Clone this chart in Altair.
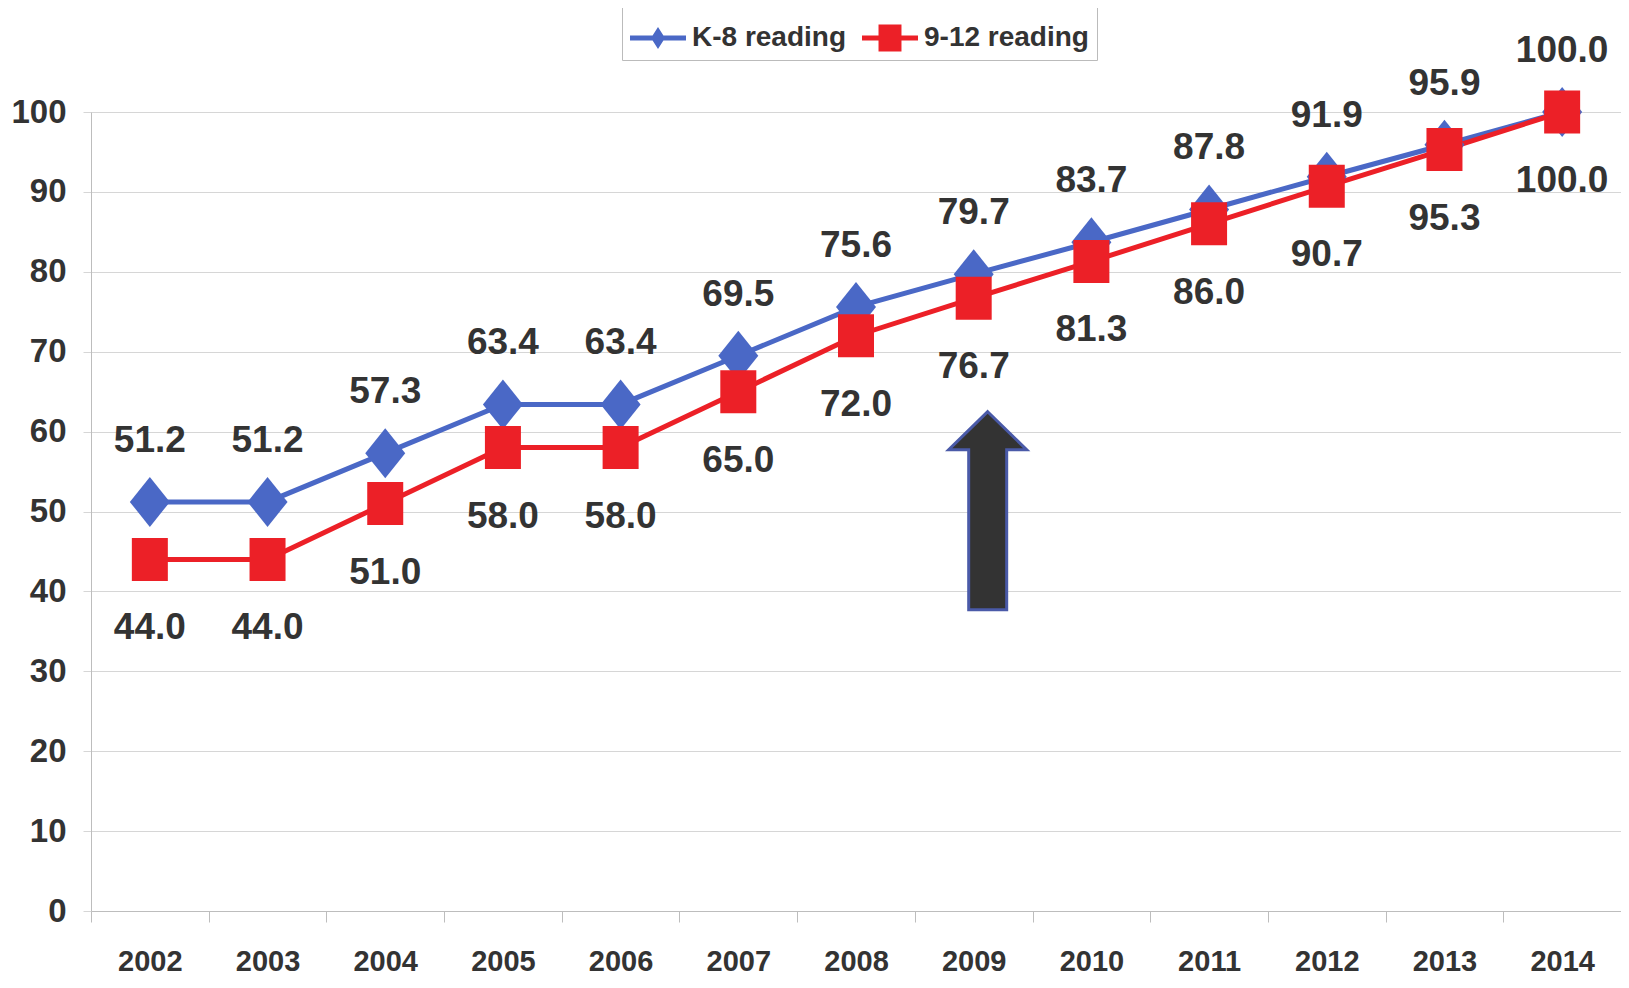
import altair as alt
import pandas as pd

years = ["2002", "2003", "2004", "2005", "2006", "2007", "2008",
         "2009", "2010", "2011", "2012", "2013", "2014"]
k8_reading = [51.2, 51.2, 57.3, 63.4, 63.4, 69.5, 75.6, 79.7, 83.7, 87.8, 91.9, 95.9, 100.0]
g912_reading = [44.0, 44.0, 51.0, 58.0, 58.0, 65.0, 72.0, 76.7, 81.3, 86.0, 90.7, 95.3, 100.0]
series_names = ["K-8 reading", "9-12 reading"]
series_colors = ["#4a68c6", "#ec2027"]
y_ticks = [0, 10, 20, 30, 40, 50, 60, 70, 80, 90, 100]

# annotation arrow (centre of the arrow, in data units)
arrow_year = ["2009"]
arrow_mid = [50.1]

FONT = "Liberation Sans"
TEXT = "#333333"

rows = []
for yr, a, b in zip(years, k8_reading, g912_reading):
    rows.append({"year": yr, "series": series_names[0], "value": a})
    rows.append({"year": yr, "series": series_names[1], "value": b})
df = pd.DataFrame(rows)
df["legend_series"] = df["series"]

arrow_df = pd.DataFrame({"year": arrow_year, "value": arrow_mid})

diamond_path = "M0,-1.25L1,0L0,1.25L-1,0Z"
square_path = "M-0.9,-1.075L0.9,-1.075L0.9,1.075L-0.9,1.075Z"
legend_diamond = "M-1,-0.09L1,-0.09L1,0.09L-1,0.09Z M0,-0.39L0.25,0L0,0.39L-0.25,0Z"
legend_square = "M-1,-0.09L1,-0.09L1,0.09L-1,0.09Z M-0.41,-0.48L0.41,-0.48L0.41,0.48L-0.41,0.48Z"
arrow_path = ("M0,-0.99L0.39,-0.61L0.19,-0.61L0.19,0.99L-0.19,0.99"
              "L-0.19,-0.61L-0.39,-0.61Z")

x_enc = alt.X(
    "year:O",
    scale=alt.Scale(type="band", paddingInner=0, paddingOuter=0),
    axis=alt.Axis(
        title=None, labelAngle=0, tickBand="extent", tickSize=11,
        tickColor="#bdbdbd", domainColor="#bdbdbd", labelPadding=25,
        labelFont=FONT, labelFontSize=29, labelFontWeight="bold",
        labelColor=TEXT, grid=False,
    ),
)
y_enc = alt.Y(
    "value:Q",
    scale=alt.Scale(domain=[0, 100], nice=False),
    axis=alt.Axis(
        title=None, values=y_ticks, grid=True, gridColor="#d6d6d6",
        tickSize=8, tickColor="#d6d6d6", domainColor="#bdbdbd",
        labelPadding=17, labelFont=FONT, labelFontSize=33,
        labelFontWeight="bold", labelColor=TEXT,
    ),
)
color_plain = alt.Color("series:N", scale=alt.Scale(domain=series_names, range=series_colors), legend=None)

legend_props = dict(
    title=None, orient="none", legendX=531, legendY=-110,
    direction="horizontal", labelFont=FONT, labelFontSize=28,
    labelFontWeight="bold", labelColor=TEXT, strokeColor="#bbbbbb",
    fillColor="white", padding=8, symbolSize=3136, symbolStrokeWidth=0,
    labelOffset=6, columnPadding=15, symbolOpacity=1, labelLimit=400,
)

base = alt.Chart(df)

legend_layer = base.mark_point(filled=True, size=1, opacity=1).encode(
    x=x_enc, y=y_enc,
    color=alt.Color(
        "legend_series:N",
        scale=alt.Scale(domain=series_names, range=series_colors),
        legend=alt.Legend(**legend_props),
    ),
    shape=alt.Shape(
        "legend_series:N",
        scale=alt.Scale(domain=series_names, range=[legend_diamond, legend_square]),
        legend=alt.Legend(**legend_props),
    ),
)

lines = base.mark_line(strokeWidth=5).encode(x=x_enc, y=y_enc, color=color_plain)

points = base.mark_point(filled=True, size=1600, opacity=1).encode(
    x=x_enc, y=y_enc, color=color_plain,
    shape=alt.Shape("series:N", scale=alt.Scale(domain=series_names, range=[diamond_path, square_path]), legend=None),
)

labels_top = base.transform_filter(alt.datum.series == series_names[0]).mark_text(
    dy=-61, font=FONT, fontSize=37, fontWeight="bold", color=TEXT
).encode(x=x_enc, y=y_enc, text=alt.Text("value:Q", format=".1f"))

labels_bottom = base.transform_filter(alt.datum.series == series_names[1]).mark_text(
    dy=69, font=FONT, fontSize=37, fontWeight="bold", color=TEXT
).encode(x=x_enc, y=y_enc, text=alt.Text("value:Q", format=".1f"))

arrow = alt.Chart(arrow_df).mark_point(
    shape=arrow_path, size=40000, filled=True, fill="#333333", stroke="#4a5aa8",
    strokeWidth=3, opacity=1, fillOpacity=1, xOffset=14,
).encode(x=x_enc, y=y_enc)

chart = alt.layer(legend_layer, lines, points, labels_top, labels_bottom, arrow).resolve_scale(
    color="independent", shape="independent"
).properties(
    width=1530, height=799,
    autosize=alt.AutoSizeParams(type="none"),
    padding={"left": 83, "top": 104, "right": 0, "bottom": 68},
).configure_view(strokeWidth=0).configure(background="white")

chart.save("out.html", embed_options={"renderer": "svg", "actions": False})
